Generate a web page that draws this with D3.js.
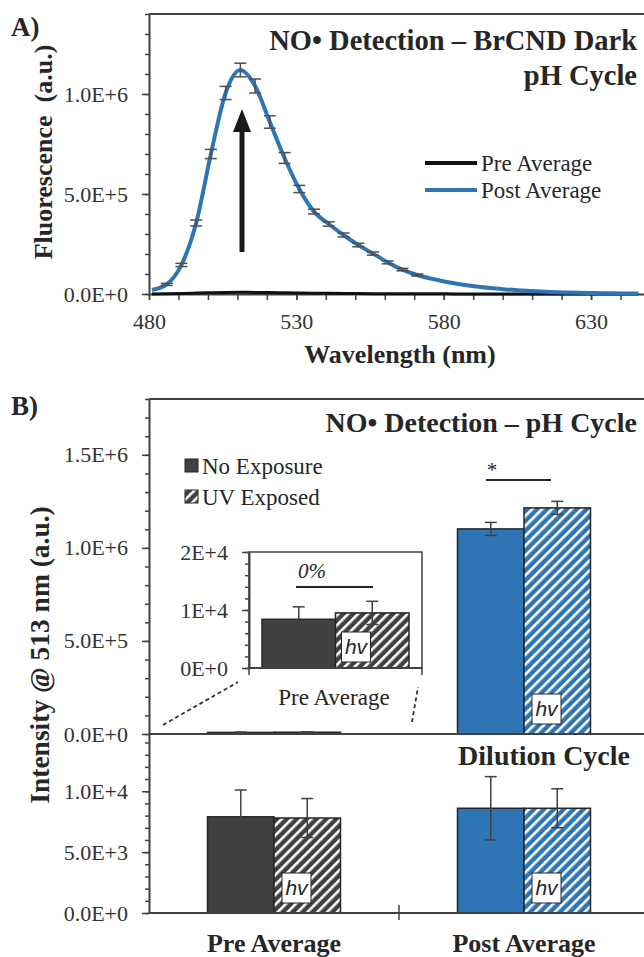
<!DOCTYPE html>
<html>
<head>
<meta charset="utf-8">
<script src="https://cdn.jsdelivr.net/npm/d3@7"></script>
<style>
body { margin: 0; background: #fff; }
svg { display: block; font-family: "Liberation Serif", "Times New Roman", serif; }
</style>
</head>
<body>
<svg id="chart" width="644" height="957"></svg>
<script>

// ---- panel A : spectra, one point every 5 nm
var wavelengths = [481,486,491,496,501,506,511,516,521,526,531,536,541,546,551,556,561,566,571,576,581,586,591,596,601,606,611,616,621,626,631,636,641,646];
var preSpectrum = [500,1000,2500,4500,6500,8000,8500,8000,7000,5800,4800,4000,3300,2700,2200,1800,1500,1200,1000,800,650,500,400,350,300,250,200,180,160,140,120,100,90,80];
var postSpectrum = [20000,48000,145000,355000,700000,1005000,1120000,1040000,860000,680000,525000,412000,350000,295000,245000,202000,158000,122000,95000,76000,60000,48000,38000,30000,23000,18000,13500,10500,8000,6000,4500,3500,2500,2000];
var postError = [null,5000,8000,15000,23000,33000,34000,35000,31000,27000,18000,12000,11000,10000,9000,8000,7000,6000,5000,null,null,null,null,null,null,null,null,null,null,null,null,null,null,null];
var spectrumSeries = ["Pre Average", "Post Average"];

var aYMajor = [0, 5e5, 1e6];
var aXMajor = [480, 530, 580, 630];

// ---- panel B : intensity at 513 nm
var bCategories = ["Pre Average", "Post Average"];
var bSeries = ["No Exposure", "UV Exposed"];
var phNoExposure = [8400, 1102000];
var phNoExposureErr = [2150, 35000];
var phUV = [9500, 1215000];
var phUVErr = [2000, 35000];
var dilNoExposure = [7900, 8600];
var dilNoExposureErr = [2200, 2600];
var dilUV = [7800, 8600];
var dilUVErr = [1600, 1600];

var bTopMajor = [0, 5e5, 1e6, 1.5e6];
var bBotMajor = [0, 5e3, 1e4];
var insetMajor = [0, 1e4, 2e4];

var ink = "#404040", textCol = "#262626", blue = "#2E75B6", dark = "#404040";
var svg = d3.select("#chart");

var defs = svg.append("defs");
function hatch(id, color) {
    var p = defs.append("pattern")
        .attr("id", id)
        .attr("patternUnits", "userSpaceOnUse")
        .attr("width", 7).attr("height", 7)
        .attr("patternTransform", "rotate(45)");
    p.append("rect").attr("width", 7).attr("height", 7).attr("fill", color);
    p.append("rect").attr("width", 2.6).attr("height", 7).attr("fill", "#fff");
}
hatch("hatchDark", dark);
hatch("hatchBlue", blue);

var fmt1 = function (d) { return d3.format(".1e")(d).replace("e", "E"); };
var fmt0 = function (d) { return d3.format(".0e")(d).replace("e", "E"); };

function range(a, b, step) {
    return d3.range(a, b + step / 2, step);
}

//left axis with labelled major ticks and short minor ticks
function leftAxis(x0, scale, majors, minors, fmt, pad) {
    svg.append("g")
        .attr("class", "minor")
        .attr("transform", "translate(" + x0 + ",0)")
        .call(d3.axisLeft(scale).tickValues(minors).tickSize(4).tickSizeOuter(0).tickFormat(""))
        .call(function (g) { g.select(".domain").remove(); });
    svg.append("g")
        .attr("transform", "translate(" + x0 + ",0)")
        .call(d3.axisLeft(scale).tickValues(majors).tickSize(7).tickSizeOuter(0).tickPadding(pad).tickFormat(fmt));
}

// ================= panel A =================
var xA = d3.scaleLinear().domain([480, 650]).range([149, 650]);
var yA = d3.scaleLinear().domain([0, 1.4e6]).range([294, 14]);

svg.append("line").attr("x1", 149).attr("x2", 650).attr("y1", 14).attr("y2", 14)
    .attr("stroke", ink).attr("stroke-width", 2);

leftAxis(149, yA, aYMajor, range(0, 1.4e6, 1e5), fmt1, 14);

svg.append("g")
    .attr("transform", "translate(0,294)")
    .call(d3.axisBottom(xA).tickValues(range(480, 640, 10)).tickSize(6).tickSizeOuter(0).tickFormat(""));
svg.append("g")
    .attr("transform", "translate(0,294)")
    .call(d3.axisBottom(xA).tickValues(aXMajor).tickSize(6).tickSizeOuter(0).tickPadding(13).tickFormat(d3.format("d")))
    .call(function (g) { g.select(".domain").remove(); });

var specLine = d3.line().curve(d3.curveMonotoneX)
    .x(function (d) { return xA(d[0]); })
    .y(function (d) { return yA(d[1]); });

svg.append("path")
    .datum(d3.zip(wavelengths, preSpectrum))
    .attr("d", specLine).attr("fill", "none")
    .attr("stroke", "#111").attr("stroke-width", 3);

svg.append("path")
    .datum(d3.zip(wavelengths, postSpectrum))
    .attr("d", specLine).attr("fill", "none")
    .attr("stroke", blue).attr("stroke-width", 4);

var errPts = d3.zip(wavelengths, postSpectrum, postError).filter(function (d) { return d[2] != null; });
var errA = svg.append("g").attr("stroke", "#505050").attr("stroke-width", 1.5);
errPts.forEach(function (d) {
    var x = xA(d[0]);
    errA.append("line").attr("x1", x).attr("x2", x).attr("y1", yA(d[1] - d[2])).attr("y2", yA(d[1] + d[2]));
    errA.append("line").attr("x1", x - 6).attr("x2", x + 6).attr("y1", yA(d[1] - d[2])).attr("y2", yA(d[1] - d[2]));
    errA.append("line").attr("x1", x - 6).attr("x2", x + 6).attr("y1", yA(d[1] + d[2])).attr("y2", yA(d[1] + d[2]));
});

// arrow
svg.append("line").attr("x1", 242).attr("x2", 242).attr("y1", 252).attr("y2", 128)
    .attr("stroke", "#1a1a1a").attr("stroke-width", 5);
svg.append("path").attr("d", "M242,109 L233,132 L251,132 Z").attr("fill", "#1a1a1a");

// legend A
var legA = svg.append("g");
spectrumSeries.forEach(function (s, i) {
    var y = 163 + i * 27;
    legA.append("line").attr("x1", 425).attr("x2", 477).attr("y1", y).attr("y2", y)
        .attr("stroke", i === 0 ? "#111" : blue).attr("stroke-width", 4);
    legA.append("text").attr("x", 481).attr("y", y + 8).attr("font-size", 23)
        .attr("fill", textCol).text(s);
});

svg.append("text").attr("x", 637).attr("y", 50).attr("text-anchor", "end")
    .attr("font-size", 28.5).attr("font-weight", "bold").attr("fill", textCol)
    .text("NO\u2022 Detection \u2013 BrCND Dark");
svg.append("text").attr("x", 637).attr("y", 85).attr("text-anchor", "end")
    .attr("font-size", 28.5).attr("font-weight", "bold").attr("fill", textCol)
    .text("pH Cycle");

svg.append("text").attr("x", 400).attr("y", 363).attr("text-anchor", "middle")
    .attr("font-size", 26).attr("font-weight", "bold").attr("fill", textCol)
    .text("Wavelength (nm)");
svg.append("text").attr("transform", "translate(52,152) rotate(-90)").attr("text-anchor", "middle")
    .attr("font-size", 26).attr("font-weight", "bold").attr("fill", textCol)
    .attr("xml:space", "preserve")
    .text("Fluorescence  (a.u.)");
svg.append("text").attr("x", 11).attr("y", 36)
    .attr("font-size", 27).attr("font-weight", "bold").attr("fill", textCol).text("A)");

// ================= panel B =================
var xB = d3.scaleBand().domain(bCategories).range([149, 649]);
var xSub = d3.scaleBand().domain(bSeries).range([0, xB.bandwidth()]).paddingOuter(0.88);
var yBtop = d3.scaleLinear().domain([0, 1.8e6]).range([734, 399]);
var yBbot = d3.scaleLinear().domain([0, 14700]).range([913, 734]);

svg.append("text").attr("x", 11).attr("y", 415)
    .attr("font-size", 27).attr("font-weight", "bold").attr("fill", textCol).text("B)");

svg.append("line").attr("x1", 149).attr("x2", 650).attr("y1", 399).attr("y2", 399)
    .attr("stroke", ink).attr("stroke-width", 2);

leftAxis(149, yBtop, bTopMajor, range(0, 1.8e6, 1e5), fmt1, 14);
leftAxis(149, yBbot, bBotMajor, range(0, 14000, 1000), fmt1, 14);

function barRows(noExp, noErr, uv, uvErr) {
    var rows = [];
    bCategories.forEach(function (c, i) {
        rows.push({ cat: c, series: bSeries[0], v: noExp[i], e: noErr[i] });
        rows.push({ cat: c, series: bSeries[1], v: uv[i], e: uvErr[i] });
    });
    return rows;
}
function barFill(d) {
    var pre = d.cat === bCategories[0];
    if (d.series === bSeries[0]) return pre ? dark : blue;
    return pre ? "url(#hatchDark)" : "url(#hatchBlue)";
}

function hvBox(g, x, yBottom) {
    g.append("rect").attr("x", x).attr("y", yBottom - 30).attr("width", 29).attr("height", 30)
        .attr("fill", "#fff").attr("stroke", "#262626").attr("stroke-width", 1);
    g.append("text").attr("x", x + 14.5).attr("y", yBottom - 8).attr("text-anchor", "middle")
        .attr("font-family", "'Liberation Sans', Arial, sans-serif").attr("font-style", "italic")
        .attr("font-size", 21).attr("fill", "#262626").text("hv");
}

function drawBars(rows, xOuter, xInner, y, showHv) {
    var g = svg.append("g");
    rows.forEach(function (d) {
        var x = xOuter(d.cat) + xInner(d.series);
        var w = xInner.bandwidth();
        g.append("rect").attr("x", x).attr("y", y(d.v)).attr("width", w)
            .attr("height", y(0) - y(d.v))
            .attr("fill", barFill(d)).attr("stroke", "#262626").attr("stroke-width", 1.5);
        if (showHv && d.series === bSeries[1] && y(0) - y(d.v) > 40) hvBox(g, x + 8, y(0) - 10);
    });
    rows.forEach(function (d) {
        var cx = xOuter(d.cat) + xInner(d.series) + xInner.bandwidth() / 2;
        var e = g.append("g").attr("stroke", ink).attr("stroke-width", 1.5);
        e.append("line").attr("x1", cx).attr("x2", cx).attr("y1", y(d.v - d.e)).attr("y2", y(d.v + d.e));
        e.append("line").attr("x1", cx - 6).attr("x2", cx + 6).attr("y1", y(d.v - d.e)).attr("y2", y(d.v - d.e));
        e.append("line").attr("x1", cx - 6).attr("x2", cx + 6).attr("y1", y(d.v + d.e)).attr("y2", y(d.v + d.e));
    });
}

drawBars(barRows(phNoExposure, phNoExposureErr, phUV, phUVErr), xB, xSub, yBtop, true);
drawBars(barRows(dilNoExposure, dilNoExposureErr, dilUV, dilUVErr), xB, xSub, yBbot, true);

// axis lines of the two stacked panels
svg.append("line").attr("x1", 149).attr("x2", 650).attr("y1", 734).attr("y2", 734)
    .attr("stroke", ink).attr("stroke-width", 2);
svg.append("line").attr("x1", 149).attr("x2", 650).attr("y1", 913).attr("y2", 913)
    .attr("stroke", ink).attr("stroke-width", 2);
svg.append("line").attr("x1", xB(bCategories[1])).attr("x2", xB(bCategories[1])).attr("y1", 905).attr("y2", 920)
    .attr("stroke", ink).attr("stroke-width", 1.5);

bCategories.forEach(function (c) {
    svg.append("text").attr("x", xB(c) + xB.bandwidth() / 2).attr("y", 952).attr("text-anchor", "middle")
        .attr("font-size", 26).attr("font-weight", "bold").attr("fill", textCol).text(c);
});

// significance for post average, pH cycle
svg.append("line").attr("x1", 486).attr("x2", 551).attr("y1", 480).attr("y2", 480)
    .attr("stroke", textCol).attr("stroke-width", 2);
svg.append("text").attr("x", 492).attr("y", 477).attr("text-anchor", "middle")
    .attr("font-size", 21).attr("fill", textCol).text("*");

svg.append("text").attr("x", 637).attr("y", 432).attr("text-anchor", "end")
    .attr("font-size", 28).attr("font-weight", "bold").attr("fill", textCol)
    .text("NO\u2022 Detection \u2013 pH Cycle");
svg.append("text").attr("x", 630).attr("y", 765).attr("text-anchor", "end")
    .attr("font-size", 28).attr("font-weight", "bold").attr("fill", textCol)
    .text("Dilution Cycle");

svg.append("text").attr("transform", "translate(49,655) rotate(-90)").attr("text-anchor", "middle")
    .attr("font-size", 27.5).attr("font-weight", "bold").attr("fill", textCol)
    .text("Intensity @ 513 nm (a.u.)");

// legend B
var legB = svg.append("g");
bSeries.forEach(function (s, i) {
    var y = 459 + i * 31;
    legB.append("rect").attr("x", 185).attr("y", y).attr("width", 13).attr("height", 13)
        .attr("fill", i === 0 ? dark : "url(#hatchDark)").attr("stroke", "#262626").attr("stroke-width", 1);
    legB.append("text").attr("x", 202).attr("y", y + 15).attr("font-size", 23)
        .attr("fill", textCol).text(s);
});

// ---- inset: pre average of the pH cycle, zoomed
var xIn = d3.scaleBand().domain(bSeries).range([249, 422]).paddingOuter(0.177);
var yIn = d3.scaleLinear().domain([0, 2e4]).range([668, 552]);
svg.append("rect").attr("x", 249).attr("y", 552).attr("width", 173).attr("height", 116)
    .attr("fill", "#fff").attr("stroke", ink).attr("stroke-width", 1.5);
leftAxis(249, yIn, insetMajor, range(0, 2e4, 2e3), fmt0, 14);
var xInPos = function () { return 0; };
drawBars([
    { cat: bCategories[0], series: bSeries[0], v: phNoExposure[0], e: phNoExposureErr[0] },
    { cat: bCategories[0], series: bSeries[1], v: phUV[0], e: phUVErr[0] }
], xInPos, xIn, yIn, false);
hvBox(svg, xIn(bSeries[1]) + 6, 662);
svg.append("line").attr("x1", 249).attr("x2", 422).attr("y1", 668).attr("y2", 668)
    .attr("stroke", ink).attr("stroke-width", 2);
[249, 422].forEach(function (x) {
    svg.append("line").attr("x1", x).attr("x2", x).attr("y1", 668).attr("y2", 675)
        .attr("stroke", ink).attr("stroke-width", 1.5);
});
svg.append("text").attr("x", 334).attr("y", 705).attr("text-anchor", "middle")
    .attr("font-size", 23).attr("fill", textCol).text("Pre Average");
svg.append("line").attr("x1", 296).attr("x2", 373).attr("y1", 587).attr("y2", 587)
    .attr("stroke", textCol).attr("stroke-width", 2);
svg.append("text").attr("x", 312).attr("y", 578).attr("text-anchor", "middle")
    .attr("font-size", 21).attr("font-style", "italic").attr("fill", textCol).text("0%");

// dashed zoom guides
var guides = svg.append("g").attr("stroke", "#333").attr("stroke-width", 1.8).attr("stroke-dasharray", "4,3");
guides.append("line").attr("x1", 163).attr("y1", 725).attr("x2", 238).attr("y2", 682);
guides.append("line").attr("x1", 412).attr("y1", 722).attr("x2", 418).attr("y2", 687);

// common axis styling
svg.selectAll(".domain").attr("stroke", ink).attr("stroke-width", 2);
svg.selectAll(".tick line").attr("stroke", ink).attr("stroke-width", 1.5);
svg.selectAll(".tick text").attr("font-size", 22).attr("fill", "#333")
    .attr("font-family", "'Liberation Serif', 'Times New Roman', serif");
svg.selectAll("g").filter(function () { return this.getAttribute("font-family") === "sans-serif"; })
    .attr("font-family", null);

</script>
</body>
</html>
